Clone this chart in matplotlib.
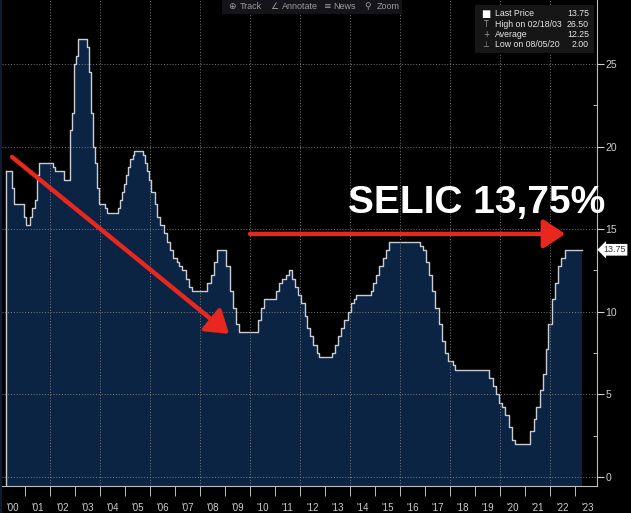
import numpy as np
import pandas as pd
import matplotlib
matplotlib.use("Agg")
import matplotlib.pyplot as plt
import matplotlib.dates as mdates
from matplotlib.patches import Rectangle

# ---- SELIC target rate: change dates and new levels ----
change_dates = [
    "2000-03-22", "2000-06-21", "2000-07-19", "2000-12-20",
    "2001-01-17", "2001-03-21", "2001-04-18", "2001-05-23", "2001-06-20", "2001-07-18",
    "2002-02-20", "2002-03-20", "2002-07-17", "2002-10-14", "2002-11-20", "2002-12-18",
    "2003-01-22", "2003-02-19", "2003-06-18", "2003-07-23", "2003-08-20", "2003-09-17",
    "2003-10-22", "2003-11-19", "2003-12-17",
    "2004-03-17", "2004-04-14", "2004-09-15", "2004-10-20", "2004-11-17", "2004-12-15",
    "2005-01-19", "2005-02-16", "2005-03-16", "2005-04-20", "2005-05-18", "2005-09-14",
    "2005-10-19", "2005-11-23", "2005-12-14",
    "2006-01-18", "2006-03-08", "2006-04-19", "2006-05-31", "2006-07-19", "2006-08-30",
    "2006-10-18", "2006-11-29",
    "2007-01-24", "2007-03-07", "2007-04-18", "2007-06-06", "2007-07-18", "2007-09-05",
    "2008-04-16", "2008-06-04", "2008-07-23", "2008-09-10",
    "2009-01-21", "2009-03-11", "2009-04-29", "2009-06-10", "2009-07-22",
    "2010-04-28", "2010-06-09", "2010-07-21",
    "2011-01-19", "2011-03-02", "2011-04-20", "2011-06-08", "2011-07-20", "2011-08-31",
    "2011-10-19", "2011-11-30",
    "2012-01-18", "2012-03-07", "2012-04-18", "2012-05-30", "2012-07-11", "2012-08-29",
    "2012-10-10",
    "2013-04-17", "2013-05-29", "2013-07-10", "2013-08-28", "2013-10-09", "2013-11-27",
    "2014-01-15", "2014-02-26", "2014-04-02", "2014-10-29", "2014-12-03",
    "2015-01-21", "2015-03-04", "2015-04-29", "2015-06-03", "2015-07-29",
    "2016-10-19", "2016-11-30",
    "2017-01-11", "2017-02-22", "2017-04-12", "2017-05-31", "2017-07-26", "2017-09-06",
    "2017-10-25", "2017-12-06",
    "2018-02-07", "2018-03-21",
    "2019-07-31", "2019-09-18", "2019-10-30", "2019-12-11",
    "2020-02-05", "2020-03-18", "2020-05-06", "2020-06-17", "2020-08-05",
    "2021-03-17", "2021-05-05", "2021-06-16", "2021-08-04", "2021-09-22", "2021-10-27",
    "2021-12-08",
    "2022-02-02", "2022-03-16", "2022-05-04", "2022-06-15", "2022-08-03",
    "2023-04-07",
]
rates = [
    18.50, 17.50, 16.50, 15.75,
    15.25, 15.75, 16.25, 16.75, 18.25, 19.00,
    18.75, 18.50, 18.00, 21.00, 22.00, 25.00,
    25.50, 26.50, 26.00, 24.50, 22.00, 20.00,
    19.00, 17.50, 16.50,
    16.25, 16.00, 16.25, 16.75, 17.25, 17.75,
    18.25, 18.75, 19.25, 19.50, 19.75, 19.50,
    19.00, 18.50, 18.00,
    17.25, 16.50, 15.75, 15.25, 14.75, 14.25,
    13.75, 13.25,
    13.00, 12.75, 12.50, 12.00, 11.50, 11.25,
    11.75, 12.25, 13.00, 13.75,
    12.75, 11.25, 10.25, 9.25, 8.75,
    9.50, 10.25, 10.75,
    11.25, 11.75, 12.00, 12.25, 12.50, 12.00,
    11.50, 11.00,
    10.50, 9.75, 9.00, 8.50, 8.00, 7.50,
    7.25,
    7.50, 8.00, 8.50, 9.00, 9.50, 10.00,
    10.50, 10.75, 11.00, 11.25, 11.75,
    12.25, 12.75, 13.25, 13.75, 14.25,
    14.00, 13.75,
    13.00, 12.25, 11.25, 10.25, 9.25, 8.25,
    7.50, 7.00,
    6.75, 6.50,
    6.00, 5.50, 5.00, 4.50,
    4.25, 3.75, 3.00, 2.25, 2.00,
    2.75, 3.50, 4.25, 5.25, 6.25, 7.75,
    9.25,
    10.75, 11.75, 12.75, 13.25, 13.75,
    13.75,
]

year_labels = ["'%02d" % (y % 100) for y in range(2000, 2024)]
grid_years = list(range(2002, 2023, 2))
legend_rows = [("Last Price", "13.75"), ("High on 02/18/03", "26.50"),
               ("Average", "12.25"), ("Low on 08/05/20", "2.00")]
legend_icons = ["\u25a0", "T", "+", "\u22a5"]
last_price = 13.75

dates = pd.to_datetime(change_dates)

BG = "black"
FILL = "#0b2444"
EDGE = "#c9cdd3"
GRID = "#8a8a8a"
TXT = "#cfcfcf"
RED = "#e8281e"
FONT = ["Liberation Sans", "DejaVu Sans"]

fig = plt.figure(figsize=(6.31, 5.13), dpi=100, facecolor=BG)
ax = fig.add_axes([2 / 631, 27 / 513, 595 / 631, 486 / 513])
ax.set_facecolor(BG)

# area + step outline
ax.fill_between(dates, rates, -5, step="post", color=FILL, lw=0, zorder=2)
ax.step(dates, rates, where="post", color=EDGE, lw=1.0, zorder=3)
ax.plot([dates[0], dates[0]], [-5, rates[0]], color=EDGE, lw=1.0, zorder=3)

ax.set_xlim(pd.Timestamp("2000-01-30"), pd.Timestamp("2023-11-18"))
ax.set_ylim(-0.55, 28.87)

# grid
for y in grid_years:
    ax.axvline(pd.Timestamp(f"{y}-01-01"), color=GRID, lw=0.6, ls=(0, (1.2, 2.2)), zorder=4)
ax.yaxis.grid(True, which="major", color=GRID, lw=0.6, ls=(0, (1.2, 2.2)), zorder=4)
ax.set_axisbelow(False)

# x axis: separators at year starts, labels mid-year
ax.xaxis.set_minor_locator(mdates.YearLocator())
ax.set_xticks([pd.Timestamp(f"{y}-07-02") for y in range(2000, 2024)])
ax.set_xticklabels(year_labels)
ax.tick_params(axis="x", which="major", length=0, pad=12, labelsize=7, labelcolor=TXT)
ax.tick_params(axis="x", which="minor", length=7, width=0.7, color="#bdbdbd", direction="out")
for lab in ax.get_xticklabels():
    lab.set_family(FONT)

# y axis on the right
ax.yaxis.tick_right()
ax.set_yticks(np.arange(0, 26, 5))
ax.set_yticks(np.arange(2.5, 26, 5), minor=True)
ax.tick_params(axis="y", which="major", length=5, width=0.8, color="#d0d0d0",
               direction="out", pad=1, labelsize=7.5, labelcolor=TXT)
ax.tick_params(axis="y", which="minor", length=3, width=0.7, color="#bdbdbd", direction="in")
for lab in ax.get_yticklabels():
    lab.set_family(FONT)

for s in ["left", "top"]:
    ax.spines[s].set_visible(False)
for s in ["right", "bottom"]:
    ax.spines[s].set_color("#bdbdbd")
    ax.spines[s].set_linewidth(0.8)

# last price tag
ax.text(1.011, last_price, "13.75", transform=ax.get_yaxis_transform(),
        ha="left", va="center", fontsize=6.5, color="#333333", family=FONT,
        bbox=dict(boxstyle="larrow,pad=0.15", fc="white", ec="none"), zorder=6)

# red arrows
arrow_kw = dict(arrowstyle="-|>,head_length=0.6,head_width=0.4", mutation_scale=22,
                lw=3.2, color=RED, shrinkA=0, shrinkB=0)
ax.annotate("", xy=(pd.Timestamp("2009-03-01"), 8.66),
            xytext=(pd.Timestamp("2000-06-24"), 19.37), arrowprops=arrow_kw, zorder=7)
ax.annotate("", xy=(pd.Timestamp("2022-08-10"), 14.71),
            xytext=(pd.Timestamp("2010-01-01"), 14.71), arrowprops=arrow_kw, zorder=7)

fig.text(348 / 631, 1 - 213 / 513, "SELIC 13,75%", ha="left", va="baseline",
         fontsize=28, fontweight="bold", color="white", family="Liberation Sans", zorder=8)

# top-right legend box
fig.patches.append(Rectangle((475 / 631, 1 - 53 / 513), 119 / 631, 48 / 513,
                             transform=fig.transFigure, fc="#161616", ec="none", zorder=9))
for i, ((name, val), icon) in enumerate(zip(legend_rows, legend_icons)):
    yy = 1 - (14 + i * 10.1) / 513
    fig.text(486 / 631, yy, icon, ha="center", va="center", fontsize=5.5 if i else 7,
             color="white" if i == 0 else "#9a9a9a", family="DejaVu Sans", zorder=10)
    fig.text(495 / 631, yy, name, ha="left", va="center", fontsize=6.3,
             color="#e6e6e6", family=FONT, zorder=10)
    fig.text(589 / 631, yy, val, ha="right", va="center", fontsize=6.3,
             color="#e6e6e6", family=FONT, zorder=10)

# toolbar
fig.patches.append(Rectangle((222 / 631, 1 - 14 / 513), 180 / 631, 14 / 513,
                             transform=fig.transFigure, fc="#14141a", ec="none", zorder=9))
for x, s in [(232, "\u2295"), (240, "Track"), (274, "\u2220"), (282, "Annotate"),
             (327, "\u2261"), (333, "News"), (368, "\u26b2"), (377, "Zoom")]:
    fig.text(x / 631, 1 - 7 / 513, s, ha="left" if len(s) > 1 else "center", va="center",
             fontsize=6.5, color="#9c9c9c", family=["DejaVu Sans"] if len(s) == 1 else FONT,
             zorder=10)

# thin frame strip on the left
fig.patches.append(Rectangle((0, 0), 2 / 631, 1, transform=fig.transFigure,
                             fc="#0d1c36", ec="none", zorder=11))

fig.savefig("out.png", dpi=100, facecolor=BG)
